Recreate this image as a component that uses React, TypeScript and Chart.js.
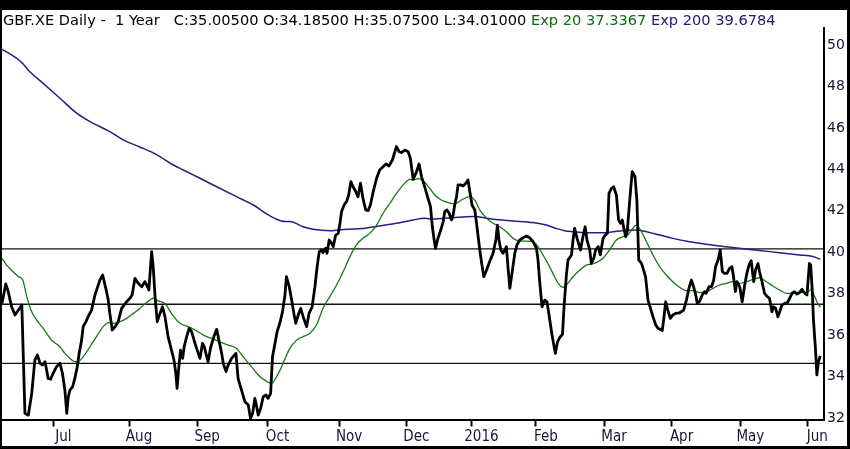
import React, { useEffect, useRef } from 'react';
import { Chart, registerables } from 'chart.js';

Chart.register(...registerables);

// trading-session index (0 = first bar on the chart) and close price
const closeSeries: [number, number][] = [
  [0,37.53],[1.2,38.47],[2.0,38.10],[3.1,37.37],[4.2,36.97],[5.3,37.21],[6.4,37.45],[7.4,32.23],[8.5,32.14],[9.6,33.19],
  [10.6,34.80],[11.4,35.04],[12.3,34.64],[13.0,34.56],[13.9,34.72],[14.9,33.91],[15.7,33.87],[16.5,34.16],[17.6,34.48],[18.7,34.64],
  [19.5,34.16],[20.3,33.35],[20.9,32.23],[21.4,33.03],[21.9,33.35],[22.8,33.51],[23.5,33.91],[24.3,34.48],[24.9,35.12],[25.7,35.76],
  [26.2,36.41],[27.1,36.65],[27.8,36.89],[28.9,37.21],[30.0,37.94],[30.9,38.34],[31.6,38.66],[32.5,38.90],[33.5,38.26],[34.3,37.69],
  [34.8,37.05],[35.6,36.25],[36.5,36.41],[37.5,36.65],[38.6,37.29],[39.4,37.45],[40.2,37.61],[41.3,37.78],[42.0,37.94],[42.9,38.74],
  [44.0,38.50],[45.1,38.34],[46.1,38.58],[46.7,38.42],[47.4,38.18],[48.3,40.03],[48.8,39.30],[49.4,37.86],[50.1,36.65],[51.0,37.05],
  [51.8,37.37],[52.6,36.89],[53.6,35.93],[54.7,35.28],[55.5,34.80],[56.1,34.16],[56.5,33.43],[57.1,34.48],[57.6,35.28],[58.3,34.88],
  [58.8,35.44],[59.6,35.93],[60.4,36.33],[61.2,36.17],[62.3,35.60],[63.0,35.28],[63.9,34.88],[64.7,35.60],[65.3,35.44],[65.8,35.12],
  [66.5,34.72],[67.4,35.44],[68.4,35.93],[69.3,36.28],[70.0,35.76],[70.9,35.12],[71.4,34.64],[72.3,34.24],[73.0,34.56],[74.1,34.88],
  [75.5,35.12],[76.2,33.91],[77.3,33.35],[78.4,32.79],[79.5,32.63],[80.2,31.98],[80.9,32.23],[81.6,32.95],[82.2,32.55],[82.7,32.14],
  [83.5,32.47],[84.3,33.03],[85.2,33.11],[85.9,32.95],[86.7,33.19],[87.3,34.96],[88.1,35.60],[88.8,36.17],[89.7,36.60],[90.5,37.10],
  [91.3,37.90],[91.8,38.82],[92.7,38.34],[93.5,37.69],[94.2,37.05],[94.8,36.57],[95.6,36.97],[96.4,37.29],[97.2,36.89],[98.3,36.41],
  [99.1,37.05],[100.1,37.37],[101.0,38.34],[101.7,39.30],[102.4,40.03],[103.1,40.11],[103.6,39.98],[104.4,40.19],[104.9,39.95],[105.6,40.59],
  [106.4,40.43],[106.9,40.27],[107.7,40.83],[108.5,40.91],[109.0,41.31],[109.6,41.96],[110.4,42.28],[111.2,42.44],[111.9,42.76],[112.6,43.41],
  [113.3,43.16],[114.2,42.92],[114.9,42.68],[115.7,43.33],[116.5,42.60],[117.4,42.04],[118.2,42.01],[118.9,42.28],[119.8,42.92],[120.9,43.57],
  [121.9,43.97],[123.0,44.13],[123.9,44.26],[124.9,44.16],[126.0,44.45],[127.3,45.10],[128.2,44.85],[128.9,44.81],[130.0,44.93],[131.1,44.85],
  [131.8,44.53],[132.7,43.52],[133.8,43.89],[134.6,44.26],[135.4,43.65],[136.5,43.12],[137.5,42.60],[138.3,42.20],[138.9,41.23],[139.4,40.67],
  [139.9,40.19],[140.7,40.67],[141.6,41.07],[142.4,41.48],[142.9,41.96],[143.6,42.04],[144.3,41.88],[145.1,41.56],[145.6,41.80],[146.1,42.28],
  [146.7,42.68],[147.2,43.25],[148.0,43.25],[148.8,43.20],[149.7,43.33],[150.4,43.49],[151.0,42.92],[151.7,42.28],[152.6,42.04],[153.3,41.23],
  [154.2,40.11],[154.9,39.38],[155.5,38.82],[156.4,39.14],[157.4,39.55],[158.5,39.95],[159.4,40.59],[159.9,41.31],[160.4,40.59],[161.0,40.11],
  [161.7,39.95],[162.3,40.11],[162.8,40.27],[163.3,39.30],[163.9,38.26],[164.6,38.98],[165.5,39.95],[166.2,40.35],[167.1,40.59],[168.2,40.70],
  [169.3,40.78],[170.3,40.70],[171.4,40.51],[172.5,40.19],[173.0,39.63],[173.5,38.66],[174.3,37.37],[175.2,37.69],[175.9,37.61],[176.8,36.73],
  [177.6,35.93],[178.6,35.12],[179.3,35.68],[180.0,35.88],[180.9,36.05],[181.4,37.37],[182.2,38.98],[182.7,39.63],[183.8,39.87],[184.3,40.59],
  [184.8,41.15],[185.6,40.67],[186.7,40.11],[187.5,40.75],[188.2,41.23],[188.8,40.59],[189.7,40.11],[190.2,39.46],[191.0,39.71],[191.6,40.11],
  [192.4,40.27],[193.1,39.87],[194.0,40.67],[194.7,40.83],[195.4,40.91],[195.9,42.84],[196.7,43.08],[197.4,43.16],[198.3,42.76],[199.0,41.56],
  [199.6,41.40],[200.2,41.56],[200.7,41.15],[201.3,40.75],[201.8,40.99],[202.6,42.52],[203.4,43.89],[204.3,43.65],[204.9,42.52],[205.5,39.63],
  [206.4,39.46],[206.9,39.22],[207.7,38.82],[208.5,37.69],[209.3,37.29],[210.1,36.89],[211.0,36.49],[211.7,36.33],[213.1,36.22],[213.6,36.81],
  [214.2,37.61],[214.9,37.21],[215.7,36.81],[216.5,36.97],[217.4,37.05],[218.7,37.08],[220.0,37.21],[220.9,37.69],[221.7,38.26],[222.5,38.66],
  [223.2,38.34],[223.9,37.94],[224.4,37.53],[225.2,37.65],[226.0,37.94],[226.8,38.10],[227.3,38.02],[228.2,38.34],[229.0,38.34],[229.7,38.66],
  [230.3,39.30],[231.1,39.63],[231.8,40.11],[232.5,39.06],[233.2,38.98],[234.0,38.98],[234.8,39.22],[235.6,39.30],[236.1,38.82],[236.7,38.10],
  [237.2,38.58],[238.1,38.34],[238.9,37.61],[239.7,38.42],[240.4,38.98],[241.1,39.38],[241.8,39.59],[242.6,38.58],[243.2,39.14],[244.0,39.46],
  [244.5,39.06],[245.3,38.58],[246.1,38.02],[247.0,37.86],[247.7,37.78],[248.5,37.13],[249.0,37.37],[249.7,37.29],[250.4,36.89],[251.0,37.13],
  [251.7,37.45],[252.6,37.53],[253.5,37.57],[254.2,37.78],[255.0,38.02],[255.8,38.10],[256.5,37.98],[257.4,38.05],[258.2,38.21],[258.9,38.05],
  [259.8,37.94],[260.6,39.46],[261.0,39.38],[261.5,38.18],[261.9,36.73],[262.5,35.44],[263.0,34.08],[263.5,34.72],[264.1,35.00],
];

// Exp 20 (green)
const ema20Series: [number, number][] = [
  [0,39.71],[1.5,39.38],[3.6,39.06],[5.3,38.82],[6.7,38.66],[8.0,37.86],[9.6,37.13],[11.2,36.73],[13.3,36.33],[16.0,35.76],
  [18.7,35.44],[20.3,35.12],[21.9,34.88],[23.5,34.72],[24.6,34.72],[26.2,34.96],[28.4,35.44],[30.5,35.93],[32.7,36.41],[34.3,36.60],
  [35.9,36.57],[38.1,36.65],[40.2,36.81],[42.4,37.05],[44.5,37.29],[46.1,37.50],[47.7,37.69],[48.8,37.78],[50.4,37.65],[52.6,37.53],
  [54.7,37.05],[57.4,36.57],[60.1,36.41],[62.3,36.25],[64.9,36.01],[67.6,35.84],[70.3,35.68],[73.0,35.52],[75.7,35.36],[77.8,34.96],
  [80.5,34.48],[82.7,34.08],[84.8,33.83],[87.0,33.67],[88.6,33.99],[89.7,34.30],[91.3,34.85],[92.9,35.36],[95.1,35.76],[97.2,35.93],
  [99.4,36.09],[101.5,36.49],[103.6,37.29],[105.8,37.86],[108.0,38.42],[110.1,39.06],[112.3,39.79],[114.4,40.35],[116.5,40.67],[118.7,40.91],
  [120.9,41.31],[123.0,41.88],[125.2,42.36],[127.3,42.84],[129.5,43.25],[131.6,43.52],[132.7,43.49],[134.3,43.55],[135.9,43.45],[138.1,43.08],
  [139.7,42.76],[141.8,42.52],[144.0,42.39],[146.1,42.33],[148.3,42.52],[151.0,42.68],[152.6,42.52],[154.2,42.04],[156.4,41.64],[158.5,41.40],
  [160.6,41.23],[162.8,40.99],[165.0,40.67],[167.1,40.54],[169.3,40.54],[171.4,40.51],[173.0,40.27],[174.6,39.87],[176.2,39.46],[177.8,38.98],
  [179.5,38.50],[181.1,38.31],[182.2,38.42],[184.3,38.82],[186.5,39.14],[188.6,39.38],[190.2,39.43],[191.8,39.50],[194.0,39.71],[196.1,40.11],
  [198.3,40.59],[200.4,40.75],[202.0,40.83],[203.4,41.11],[204.7,41.31],[206.4,40.99],[208.0,40.51],[210.1,39.87],[212.3,39.30],[214.4,38.90],
  [216.5,38.58],[218.7,38.31],[220.9,38.15],[223.0,38.15],[225.2,38.05],[227.3,38.10],[229.5,38.26],[231.6,38.42],[233.8,38.50],[235.9,38.58],
  [238.1,38.50],[240.2,38.58],[242.4,38.69],[244.5,38.77],[246.7,38.58],[248.8,38.37],[251.0,38.18],[253.1,38.02],[255.3,38.02],[257.4,38.07],
  [259.6,38.05],[261.0,38.18],[262.3,37.86],[263.3,37.53],[264.1,37.34],
];

// Exp 200 (purple)
const ema200Series: [number, number][] = [
  [0,49.79],[3.1,49.52],[6.4,49.15],[9.0,48.71],[13.3,48.15],[18.7,47.43],[24.1,46.71],[28.4,46.30],[34.8,45.82],[39.1,45.42],
  [44.5,45.08],[49.9,44.71],[55.3,44.21],[58.5,43.97],[63.9,43.57],[69.3,43.16],[75.7,42.68],[81.1,42.28],[85.4,41.85],[88.6,41.59],
  [91.3,41.48],[92.9,41.48],[97.2,41.23],[100.4,41.11],[105.8,41.04],[111.2,41.11],[116.5,41.15],[121.9,41.27],[127.3,41.40],[132.7,41.56],
  [136.5,41.64],[139.1,41.60],[145.6,41.67],[152.0,41.72],[158.5,41.59],[165.0,41.51],[171.4,41.43],[175.7,41.31],[178.9,41.15],[181.6,41.04],
  [184.3,40.99],[188.6,40.94],[194.0,40.94],[199.4,41.03],[204.7,41.07],[208.0,40.99],[212.3,40.83],[216.5,40.67],[221.9,40.51],[226.8,40.40],
  [231.6,40.30],[238.1,40.19],[244.5,40.08],[251.0,39.98],[257.4,39.87],[261.7,39.79],[264.1,39.66],
];

// horizontal support / resistance lines
const levelLines = [40.16, 37.49, 34.64];

// month boundaries on the session axis and their labels
const monthTicks = [16.6, 41.0, 63.0, 85.7, 108.8, 130.5, 151.5, 172.3, 194.3, 216.1, 238.3, 259.9];
const monthLabels = ['Jul', 'Aug', 'Sep', 'Oct', 'Nov', 'Dec', '2016', 'Feb', 'Mar', 'Apr', 'May', 'Jun'];

const priceTicks = [32, 34, 36, 38, 40, 42, 44, 46, 48, 50];

const headerParts = [
  { text: 'GBF.XE Daily -  1 Year   C:35.00500 O:34.18500 H:35.07500 L:34.01000 ', color: '#000000' },
  { text: 'Exp 20 37.3367 ', color: '#0b6b0b' },
  { text: 'Exp 200 39.6784', color: '#2a1478' },
];

const X_MIN = 0;
const X_MAX = 265.3;

const framePlugin = {
  id: 'frame',
  beforeDraw(chart: any) {
    const { ctx, width, height } = chart;
    ctx.save();
    ctx.fillStyle = '#000';
    ctx.fillRect(0, 0, width, height);
    ctx.fillStyle = '#fff';
    ctx.fillRect(2, 10, width - 5, height - 13);
    ctx.restore();
  },
  afterDraw(chart: any) {
    const { ctx } = chart;
    ctx.save();
    ctx.font = '14.6px "DejaVu Sans", sans-serif';
    ctx.textBaseline = 'alphabetic';
    let x = 3;
    for (const p of headerParts) {
      ctx.fillStyle = p.color;
      ctx.fillText(p.text, x, 25);
      x += ctx.measureText(p.text).width;
    }
    ctx.restore();
  },
};

const toXY = (s: [number, number][]) => s.map(([x, y]) => ({ x, y }));

export default function App() {
  const ref = useRef<HTMLCanvasElement | null>(null);

  useEffect(() => {
    document.body.style.margin = '0';
    if (!ref.current) return;
    const ctx = ref.current.getContext('2d');
    if (!ctx) return;

    const levelSets = levelLines.map((v) => ({
      data: [{ x: X_MIN, y: v }, { x: X_MAX, y: v }],
      borderColor: '#111',
      borderWidth: 1.3,
      pointRadius: 0,
      order: 4,
    }));

    const chart = new Chart(ctx, {
      type: 'line',
      data: {
        datasets: [
          { data: toXY(closeSeries), borderColor: '#000', borderWidth: 2.8, pointRadius: 0, tension: 0, order: 1, borderJoinStyle: 'round' },
          { data: toXY(ema20Series), borderColor: '#137a13', borderWidth: 1.3, pointRadius: 0, cubicInterpolationMode: 'monotone', order: 2 },
          { data: toXY(ema200Series), borderColor: '#2c1a86', borderWidth: 1.5, pointRadius: 0, cubicInterpolationMode: 'monotone', order: 3 },
          ...levelSets,
        ] as any,
      },
      options: {
        animation: false,
        responsive: false,
        devicePixelRatio: 1,
        layout: { padding: { left: 2, top: 28, right: 3.5, bottom: 3 } },
        plugins: { legend: { display: false }, tooltip: { enabled: false } },
        scales: {
          x: {
            type: 'linear',
            min: X_MIN,
            max: X_MAX,
            afterBuildTicks: (scale: any) => {
              scale.ticks = monthTicks.map((v) => ({ value: v }));
            },
            afterFit: (scale: any) => {
              scale.height = 26.5;
            },
            grid: { drawOnChartArea: false, drawTicks: true, tickLength: 7, tickWidth: 2, color: '#000' },
            border: { display: true, color: '#000', width: 2 },
            ticks: {
              autoSkip: false,
              maxRotation: 0,
              labelOffset: 10,
              padding: 2,
              color: '#16163a',
              font: { family: '"Liberation Sans Narrow", "DejaVu Sans Condensed", sans-serif', size: 15 },
              callback: (_v: any, i: number) => monthLabels[i],
            },
          },
          y: {
            type: 'linear',
            position: 'right',
            min: 31.93,
            max: 50.82,
            afterBuildTicks: (scale: any) => {
              scale.ticks = priceTicks.map((v) => ({ value: v }));
            },
            afterFit: (scale: any) => {
              scale.width = 22.5;
            },
            grid: { display: false, drawTicks: false },
            border: { display: true, color: '#000', width: 2 },
            ticks: {
              padding: 3,
              color: '#16163a',
              font: { family: '"DejaVu Sans", sans-serif', size: 14 },
              callback: (v: any) => String(v),
            },
          },
        },
      },
      plugins: [framePlugin],
    });
    return () => chart.destroy();
  }, []);

  return <canvas ref={ref} width={850} height={449} style={{ display: 'block' }} />;
}
